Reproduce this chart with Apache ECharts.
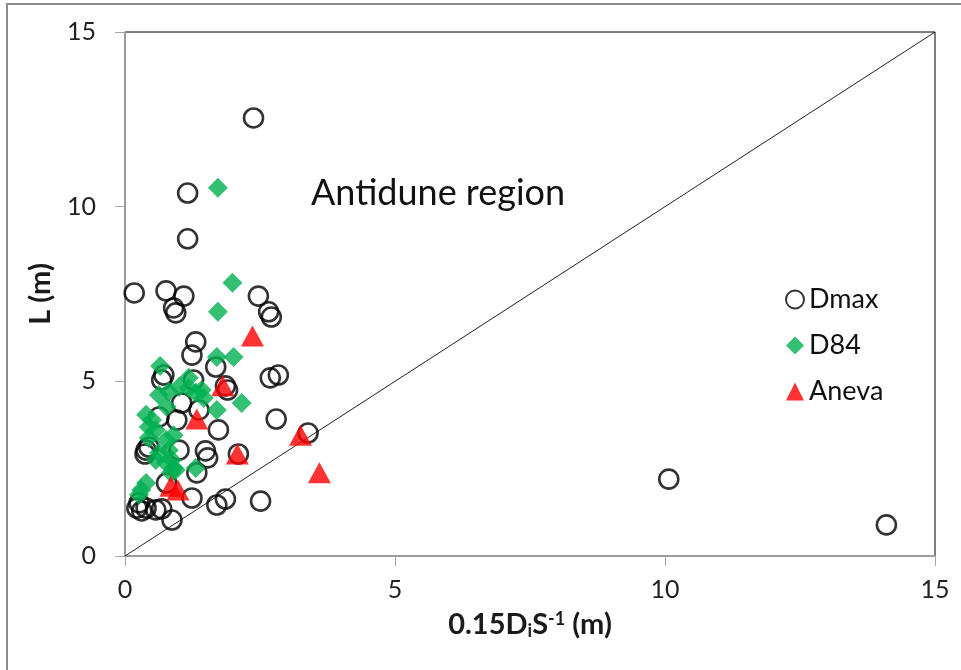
<!DOCTYPE html>
<html>
<head>
<meta charset="utf-8">
<script src="https://cdn.jsdelivr.net/npm/echarts@6/dist/echarts.min.js"></script>
<style type="text/css">
html, body {margin: 0; padding: 0; background: #fff;}
#chart {width: 961px; height: 670px;}
</style>
</head>
<body>
<div id="chart"></div>
<script>
// values, [x, L]
var dmax = [
    [2.38, 12.54], [1.16, 10.39], [1.16, 9.08], [0.17, 7.53], [0.76, 7.59],
    [1.09, 7.44], [0.90, 7.10], [0.94, 6.96], [2.47, 7.44], [2.66, 6.99],
    [2.71, 6.84], [1.31, 6.13], [1.24, 5.75], [0.72, 5.18], [1.68, 5.41],
    [1.27, 5.04], [1.86, 4.87], [1.90, 4.75], [2.69, 5.10], [2.84, 5.18],
    [1.05, 4.38], [1.37, 4.18], [0.96, 3.89], [2.80, 3.92], [1.73, 3.61],
    [3.39, 3.52], [0.39, 3.03], [0.37, 2.92], [1.00, 3.03], [1.49, 3.01],
    [1.53, 2.81], [2.10, 2.92], [1.33, 2.38], [0.77, 2.09], [1.24, 1.66],
    [1.70, 1.46], [1.86, 1.63], [2.51, 1.57], [0.26, 1.52], [0.22, 1.37],
    [0.31, 1.29], [0.39, 1.37], [0.57, 1.32], [0.68, 1.35], [0.87, 1.03],
    [10.07, 2.20], [14.10, 0.89], [0.68, 5.04], [0.44, 3.12], [0.63, 3.98]
];
var d84 = [
    [1.72, 10.54], [1.99, 7.82], [1.72, 6.99], [1.70, 5.70], [2.01, 5.70],
    [0.65, 5.44], [0.63, 4.61], [0.81, 4.70], [1.00, 4.84], [1.18, 5.10],
    [1.18, 4.81], [1.31, 4.67], [1.42, 4.75], [1.46, 4.52], [0.77, 4.27],
    [1.70, 4.18], [2.16, 4.38], [0.39, 4.04], [0.50, 3.89], [0.44, 3.69],
    [0.57, 3.61], [0.90, 3.46], [0.76, 3.32], [0.44, 3.38], [0.63, 2.95],
    [0.57, 2.75], [0.81, 3.03], [0.76, 2.66], [0.87, 2.75], [0.94, 2.46],
    [0.85, 2.38], [1.31, 2.52], [0.39, 2.09], [0.30, 1.89], [0.26, 1.75],
    [0.90, 2.52]
];
var aneva = [
    [2.36, 6.30], [1.81, 4.87], [1.33, 3.92], [3.25, 3.46], [2.08, 2.92],
    [3.60, 2.38], [0.85, 2.00], [0.98, 1.89]
];
// 1:1 line
var oneToOne = [[0, 0], [15, 15]];
var xTicks = [0, 5, 10, 15];
var yTicks = [0, 5, 10, 15];

var font = 'Lato';
var chart = echarts.init(document.getElementById('chart'));
chart.setOption({
    animation: false,
    textStyle: {fontFamily: font},
    grid: {
        left: 125, right: 26, top: 32, bottom: 114,
        show: true, borderColor: '#000', borderWidth: 1
    },
    xAxis: {
        type: 'value', min: xTicks[0], max: xTicks[xTicks.length - 1], interval: 5,
        name: '{b|0.15D}{sub|i}{b|S}{sup|-1}{b| (m)}',
        nameLocation: 'middle', nameGap: 54,
        nameTextStyle: {
            rich: {
                b: {fontSize: 29, fontWeight: 'bold', color: '#1a1a1a', fontFamily: font},
                sub: {fontSize: 18, fontWeight: 'bold', color: '#1a1a1a', fontFamily: font, verticalAlign: 'bottom', padding: [12, 0, 0, 0]},
                sup: {fontSize: 18, fontWeight: 'bold', color: '#1a1a1a', fontFamily: font, verticalAlign: 'top', padding: [0, 0, 12, 0]}
            }
        },
        axisLine: {lineStyle: {color: '#a6a6a6', width: 1.5}},
        axisTick: {length: 10, lineStyle: {color: '#a6a6a6'}},
        axisLabel: {fontSize: 25, color: '#222', margin: 21},
        splitLine: {show: false}
    },
    yAxis: {
        type: 'value', min: yTicks[0], max: yTicks[yTicks.length - 1], interval: 5,
        name: 'L (m)',
        nameLocation: 'middle', nameGap: 70,
        nameTextStyle: {fontSize: 29, fontWeight: 'bold', color: '#1a1a1a'},
        axisLine: {show: true, lineStyle: {color: '#a6a6a6', width: 1.5}},
        axisTick: {show: true, length: 10, lineStyle: {color: '#a6a6a6'}},
        axisLabel: {fontSize: 25, color: '#222', margin: 29},
        splitLine: {show: false}
    },
    legend: {
        orient: 'vertical', left: 780, top: 281,
        itemWidth: 18, itemHeight: 18, itemGap: 19,
        textStyle: {fontSize: 27, color: '#111', fontFamily: font},
        data: ['Dmax', 'D84', 'Aneva']
    },
    graphic: [
        {type: 'rect', silent: true, z: -1,
         shape: {x: 7, y: 4, width: 1000, height: 700},
         style: {fill: 'none', stroke: '#8c8c8c', lineWidth: 2}},
        {type: 'text', left: 311, top: 175,
         style: {text: 'Antidune region', fontSize: 36, fill: '#111', fontFamily: font}}
    ],
    series: [
        {
            type: 'line', data: oneToOne, symbol: 'none', silent: true,
            lineStyle: {color: '#222', width: 1}, z: 1
        },
        {
            name: 'Dmax', type: 'scatter', data: dmax, symbol: 'circle', symbolSize: 19,
            itemStyle: {color: 'rgba(255,255,255,0)', borderColor: '#000', borderWidth: 2.6}, z: 2
        },
        {
            name: 'D84', type: 'scatter', data: d84, symbol: 'diamond', symbolSize: 20,
            itemStyle: {color: '#00b050'}, z: 3
        },
        {
            name: 'Aneva', type: 'scatter', data: aneva, symbol: 'triangle', symbolSize: [23, 21],
            itemStyle: {color: '#ff0000'}, z: 4
        }
    ]
});
</script>
</body>
</html>
